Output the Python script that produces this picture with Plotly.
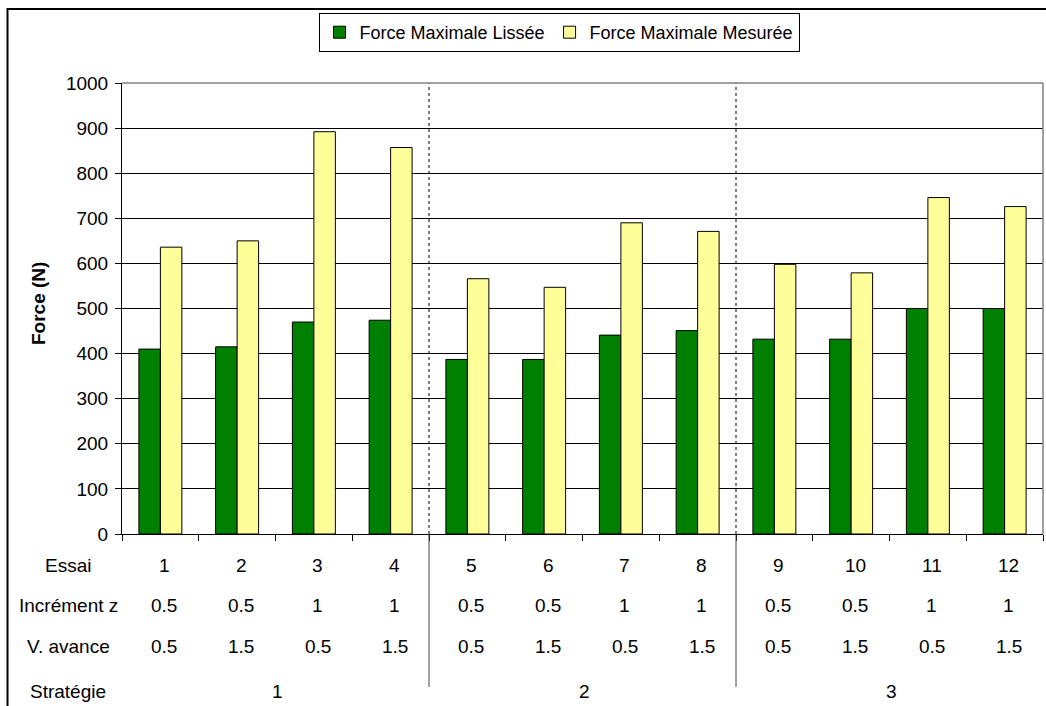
import plotly.graph_objects as go

essai = [1, 2, 3, 4, 5, 6, 7, 8, 9, 10, 11, 12]
increment_z = ["0.5", "0.5", "1", "1", "0.5", "0.5", "1", "1", "0.5", "0.5", "1", "1"]
v_avance = ["0.5", "1.5", "0.5", "1.5", "0.5", "1.5", "0.5", "1.5", "0.5", "1.5", "0.5", "1.5"]
strategie = ["1", "2", "3"]
strategie_centres = [2.5, 6.5, 10.5]
separateurs = [4.5, 8.5]

force_lissee = [410, 415, 470, 474, 387, 387, 441, 451, 432, 432, 500, 500]
force_mesuree = [636, 650, 892, 857, 566, 547, 690, 671, 598, 579, 746, 726]

FONT = "Arial, Liberation Sans, sans-serif"
FS = 19
W, H = 1046, 706
L, R, T, B = 122, 3, 83, 172
PW = W - L - R
PH = H - T - B


def py(px):
    """pixel y -> paper y"""
    return (H - B - px) / PH


def px_(pxv):
    """pixel x -> paper x"""
    return (pxv - L) / PW


fig = go.Figure()
fig.add_trace(go.Bar(x=essai, y=force_lissee, name="Force Maximale Lissée",
                     marker=dict(color="#008000", line=dict(color="black", width=1))))
fig.add_trace(go.Bar(x=essai, y=force_mesuree, name="Force Maximale Mesurée",
                     marker=dict(color="#FFFF99", line=dict(color="black", width=1))))

shapes = []
for s in separateurs:
    shapes.append(dict(type="line", xref="x", yref="y", x0=s, x1=s, y0=0, y1=1000,
                       line=dict(color="black", width=1, dash="dot"), layer="above"))
    shapes.append(dict(type="line", xref="x", yref="paper", x0=s, x1=s, y0=0, y1=py(687),
                       line=dict(color="#444", width=1)))
shapes.append(dict(type="line", xref="paper", yref="paper", x0=0, x1=1, y0=1, y1=1,
                   line=dict(color="#808080", width=1.5), layer="above"))
shapes.append(dict(type="line", xref="paper", yref="paper", x0=1, x1=1, y0=0, y1=1,
                   line=dict(color="#808080", width=1.5), layer="above"))
shapes.append(dict(type="rect", xref="paper", yref="paper", x0=px_(7.5), x1=px_(1060),
                   y0=py(720), y1=py(9), line=dict(color="black", width=2)))

annotations = []
rows = [("Essai", [str(e) for e in essai], 565),
        ("Incrément z", increment_z, 605),
        ("V. avance", v_avance, 646)]
for label, vals, ypix in rows:
    annotations.append(dict(text=label, x=px_(68), y=py(ypix), xref="paper", yref="paper",
                            xanchor="center", yanchor="middle", showarrow=False,
                            font=dict(size=FS, color="black", family=FONT)))
    for xv, t in zip(essai, vals):
        annotations.append(dict(text=t, x=xv, y=py(ypix), xref="x", yref="paper", xshift=4,
                                xanchor="center", yanchor="middle", showarrow=False,
                                font=dict(size=FS, color="black", family=FONT)))
annotations.append(dict(text="Stratégie", x=px_(68), y=py(691), xref="paper", yref="paper",
                        xanchor="center", yanchor="middle", showarrow=False,
                        font=dict(size=FS, color="black", family=FONT)))
for xv, t in zip(strategie_centres, strategie):
    annotations.append(dict(text=t, x=xv, y=py(691), xref="x", yref="paper", xshift=2,
                            xanchor="center", yanchor="middle", showarrow=False,
                            font=dict(size=FS, color="black", family=FONT)))
annotations.append(dict(text="<b>Force (N)</b>", x=px_(38), y=py(304), xref="paper", yref="paper",
                        xanchor="center", yanchor="middle", textangle=-90, showarrow=False,
                        font=dict(size=FS, color="black", family=FONT)))

fig.update_layout(
    width=W, height=H,
    margin=dict(l=L, r=R, t=T, b=B, pad=0, autoexpand=False),
    paper_bgcolor="white", plot_bgcolor="white",
    barmode="group", bargap=0.44, bargroupgap=0,
    font=dict(family=FONT, size=FS, color="black"),
    showlegend=True,
    legend=dict(orientation="h", x=px_(559), xanchor="center", y=py(13), yanchor="top",
                bordercolor="black", borderwidth=1, bgcolor="white",
                font=dict(size=18, family=FONT, color="black"),
                itemwidth=30, tracegroupgap=0),
    shapes=shapes, annotations=annotations,
    xaxis=dict(range=[0.5, 12.5], tickvals=[i + 0.5 for i in range(0, 13)],
               showticklabels=False, ticks="outside", ticklen=6, tickcolor="black",
               showgrid=False, showline=True, linecolor="black", linewidth=1,
               zeroline=False, fixedrange=True),
    yaxis=dict(range=[0, 1000], dtick=100, tick0=0, ticks="outside", ticklen=6,
               tickcolor="black", showline=True, linecolor="black", linewidth=1,
               showgrid=True, gridcolor="black", gridwidth=1, zeroline=False,
               ticklabelstandoff=3,
               tickfont=dict(size=FS, family=FONT, color="black"), fixedrange=True),
)

fig.write_html(
    "out.html",
    config={"displayModeBar": False},
    post_script="document.body.style.margin='0';document.body.style.overflow='hidden';",
)
